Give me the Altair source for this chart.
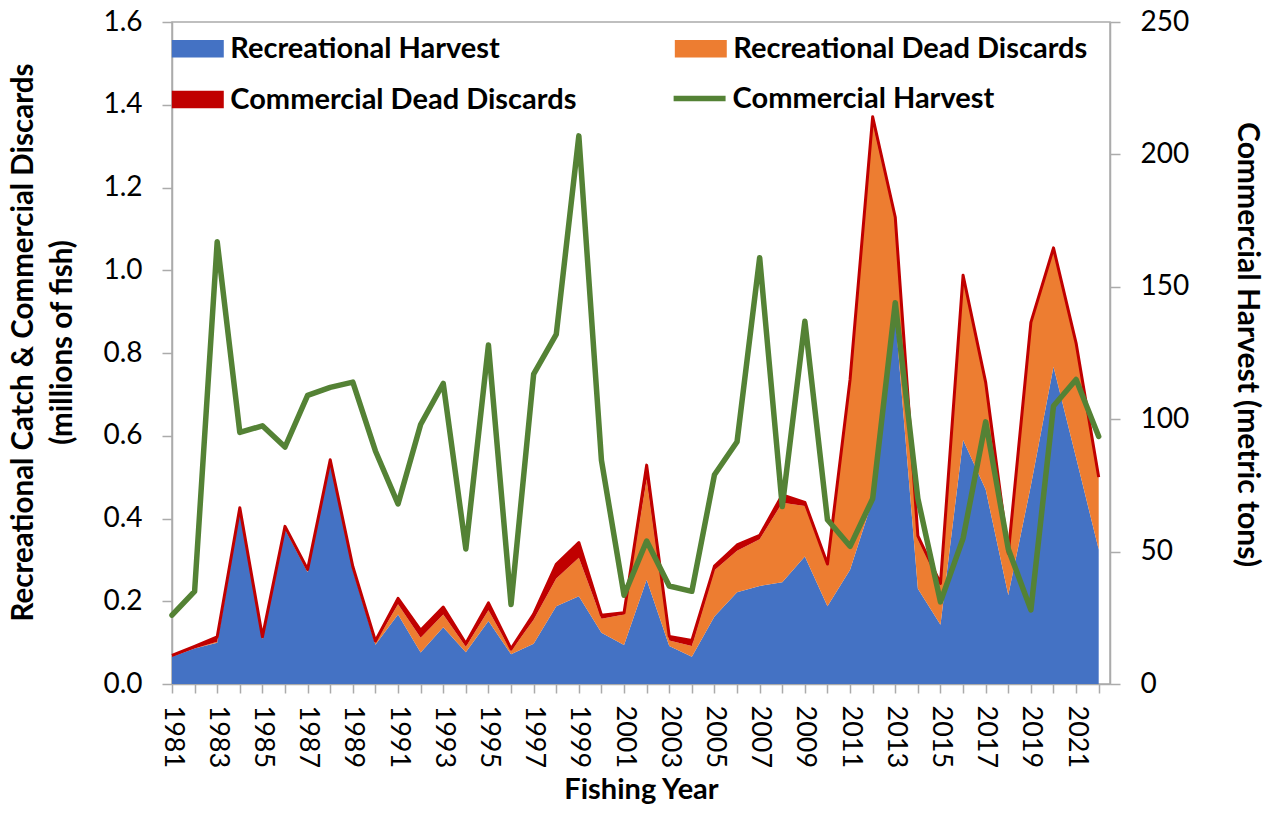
import altair as alt
import pandas as pd

years = list(range(1981, 2023))

rec_harvest = [0.066, 0.086, 0.100, 0.418, 0.108, 0.374, 0.270, 0.535, 0.276, 0.095,
               0.168, 0.076, 0.137, 0.077, 0.152, 0.072, 0.097, 0.188, 0.212, 0.124,
               0.094, 0.252, 0.092, 0.066, 0.163, 0.222, 0.237, 0.246, 0.308, 0.188,
               0.276, 0.445, 0.890, 0.230, 0.143, 0.590, 0.470, 0.215, 0.480, 0.767,
               0.547, 0.325]
rec_dead_discards = [0.000, 0.000, 0.002, 0.002, 0.002, 0.002, 0.002, 0.002, 0.004, 0.005,
                     0.025, 0.036, 0.031, 0.013, 0.026, 0.008, 0.058, 0.067, 0.093, 0.034,
                     0.074, 0.243, 0.013, 0.026, 0.112, 0.100, 0.113, 0.192, 0.122, 0.097,
                     0.454, 0.910, 0.230, 0.120, 0.095, 0.388, 0.252, 0.095, 0.388, 0.278,
                     0.268, 0.170]
comm_dead_discards = [0.003, 0.005, 0.012, 0.006, 0.004, 0.005, 0.005, 0.005, 0.004, 0.004,
                      0.014, 0.018, 0.018, 0.008, 0.018, 0.005, 0.014, 0.034, 0.037, 0.008,
                      0.004, 0.034, 0.010, 0.013, 0.010, 0.014, 0.009, 0.019, 0.009, 0.005,
                      0.006, 0.016, 0.008, 0.008, 0.005, 0.010, 0.007, 0.006, 0.006, 0.009,
                      0.009, 0.005]
comm_harvest = [26, 35, 167, 95, 97.5, 89.5, 109, 112, 114, 88,
                68, 98, 113.5, 51, 128, 30, 117, 132, 207, 84.5,
                33.5, 54, 37, 35, 79, 91.5, 161, 67, 137, 62,
                52, 70, 144, 70, 31, 55, 99, 51, 28, 105,
                115, 93.5]

area_names = ["Recreational Harvest", "Recreational Dead Discards", "Commercial Dead Discards"]
area_colors = ["#4472C4", "#ED7D31", "#C00000"]
line_name = "Commercial Harvest"
line_color = "#548235"

rows = []
for i, yr in enumerate(years):
    for k, vals in enumerate([rec_harvest, rec_dead_discards, comm_dead_discards]):
        rows.append({"year": yr, "series": area_names[k], "value": vals[i], "ord": k})
area_df = pd.DataFrame(rows)
tot_df = pd.DataFrame({"year": years,
                       "total": [a + b + c for a, b, c in zip(rec_harvest, rec_dead_discards, comm_dead_discards)]})
ch_df = pd.DataFrame({"year": years, "harvest": comm_harvest, "series": line_name})

FONT = "Lato"
W, H = 938, 662
LEFT_MAX = 1.6

x_enc = alt.X(
    "year:Q",
    scale=alt.Scale(domain=[1981, 2022.5], nice=False, zero=False),
    axis=alt.Axis(
        values=years, format="d",
        labelExpr="datum.value % 2 == 1 ? datum.label : ''",
        labelAngle=90, labelFontSize=27, labelPadding=12, tickSize=9,
        labelOverlap=False, labelFlush=False, labelBound=False,
        titleFontSize=29, titleFontWeight="bold", titleX=W / 2, titleY=105,
        titleBaseline="middle", titleAlign="center",
    ),
    title="Fishing Year",
)

areas = alt.Chart(area_df).mark_area(interpolate="linear").encode(
    x=x_enc,
    y=alt.Y(
        "value:Q", stack="zero",
        scale=alt.Scale(domain=[0, LEFT_MAX], nice=False),
        axis=alt.Axis(
            orient="left",
            values=[0, 0.2, 0.4, 0.6, 0.8, 1.0, 1.2, 1.4, 1.6], format=".1f",
            tickSize=10, labelPadding=20, labelFontSize=28,
            titleFontSize=29.5, titleFontWeight="bold",
            titleAngle=270, titleX=-163, titleY=320, titleAlign="center",
            titleBaseline="top", titleLineHeight=39,
        ),
        title=["Recreational Catch & Commercial Discards", "(millions of fish)"],
    ),
    fill=alt.Fill(
        "series:N",
        scale=alt.Scale(domain=area_names, range=area_colors),
        legend=alt.Legend(
            orient="none", direction="horizontal", legendX=11.3, legendY=12, columns=2,
            columnPadding=97, rowPadding=21, padding=0,
            symbolType="M-3,-1H3V1H-3Z", symbolSize=300, symbolStrokeWidth=0,
            labelFont=FONT, labelFontSize=29, labelFontWeight="bold", labelColor="black",
            labelOffset=18, labelLimit=600, title=None,
        ),
    ),
    order=alt.Order("ord:Q"),
)

total_line = alt.Chart(tot_df).mark_line(color="#C00000", strokeWidth=3, strokeJoin="round").encode(
    x=x_enc,
    y=alt.Y("total:Q", scale=alt.Scale(domain=[0, LEFT_MAX], nice=False), axis=None),
)

green = alt.Chart(ch_df).mark_line(strokeWidth=5.5, strokeJoin="round", strokeCap="round").encode(
    x=x_enc,
    y=alt.Y(
        "harvest:Q",
        scale=alt.Scale(domain=[0, 250], nice=False),
        axis=alt.Axis(
            orient="right", values=[0, 50, 100, 150, 200, 250],
            tickSize=10, labelPadding=20, labelFontSize=28,
            titleFontSize=30, titleFontWeight="bold",
            titleAngle=90, titleX=151, titleY=322, titleAlign="center",
            titleBaseline="top",
        ),
        title="Commercial Harvest (metric tons)",
    ),
    stroke=alt.Stroke(
        "series:N",
        scale=alt.Scale(domain=[line_name], range=[line_color]),
        legend=alt.Legend(
            orient="none", legendX=513.1, legendY=62, padding=0,
            symbolType="M-3,0H3", symbolSize=300, symbolStrokeWidth=5.5,
            labelFont=FONT, labelFontSize=29, labelFontWeight="bold", labelColor="black",
            labelOffset=18.5, labelLimit=600, title=None,
        ),
    ),
)

chart = alt.layer(areas, total_line, green).resolve_scale(y="independent").properties(
    width=W, height=H,
    autosize=alt.AutoSizeParams(type="none"),
    padding={"left": 164, "top": 14, "right": 154, "bottom": 122},
).configure_axis(
    grid=False, domainColor="#ABABAB", domainWidth=1.5, tickColor="#ABABAB", tickWidth=1.5,
    labelColor="black", titleColor="black", labelFont=FONT, titleFont=FONT,
).configure_view(
    stroke="#ABABAB", strokeWidth=1.5,
)

chart.save("out.html", embed_options={"renderer": "svg", "actions": False})
